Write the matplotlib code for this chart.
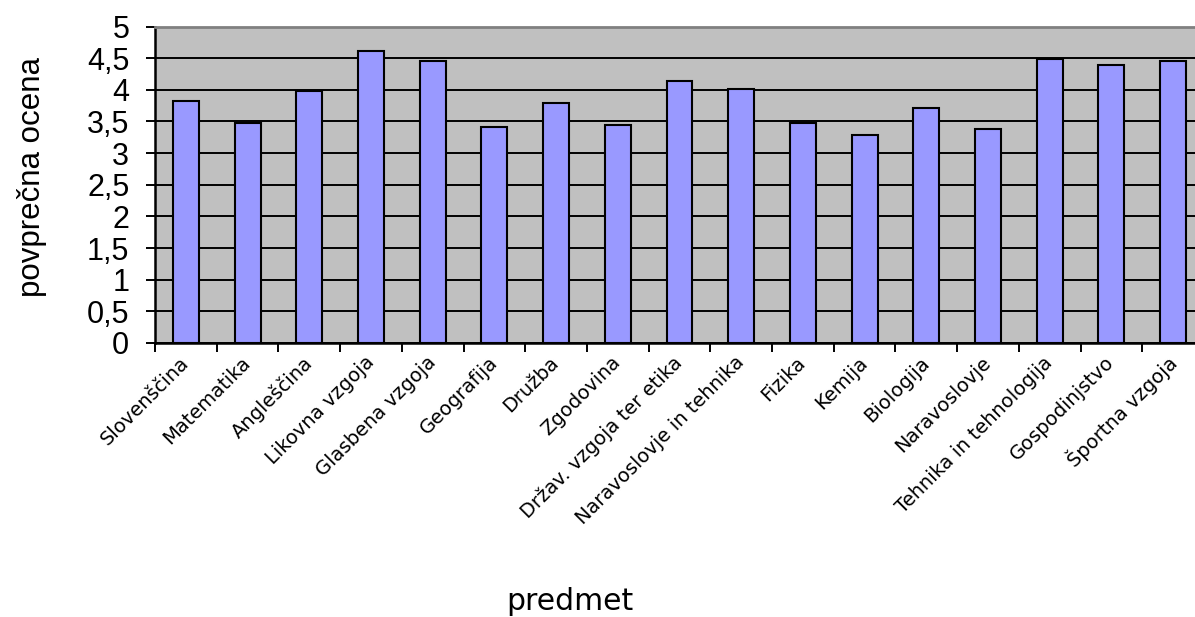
import matplotlib
matplotlib.use("Agg")
import matplotlib.pyplot as plt
from matplotlib.ticker import FixedLocator, FuncFormatter
import numpy as np

categories = ["Slovenščina", "Matematika", "Angleščina", "Likovna vzgoja",
              "Glasbena vzgoja", "Geografija", "Družba", "Zgodovina",
              "Držav. vzgoja ter etika", "Naravoslovje in tehnika", "Fizika",
              "Kemija", "Biologija", "Naravoslovje", "Tehnika in tehnologija",
              "Gospodinjstvo", "Športna vzgoja"]
values = [3.82, 3.47, 3.98, 4.61, 4.46, 3.41, 3.79, 3.44, 4.14, 4.01,
          3.47, 3.28, 3.72, 3.38, 4.48, 4.39, 4.46]
y_ticks = [0, 0.5, 1, 1.5, 2, 2.5, 3, 3.5, 4, 4.5, 5]

W, H = 1195, 617
fig = plt.figure(figsize=(W / 100, H / 100), dpi=100)
left, right, top, bottom = 155, 1204, 26.5, 343
ax = fig.add_axes([left / W, 1 - bottom / H, (right - left) / W, (bottom - top) / H])

x = np.arange(len(categories))
ax.bar(x, values, width=0.42, color="#9999FF", edgecolor="black", linewidth=1.5, zorder=3)

ax.set_facecolor("#C0C0C0")
ax.set_xlim(-0.5, len(categories) - 0.5)
ax.set_ylim(0, 5)

ax.yaxis.set_major_locator(FixedLocator(y_ticks))
ax.yaxis.set_major_formatter(FuncFormatter(lambda v, p: ("%g" % v).replace(".", ",")))
ax.yaxis.grid(True, color="black", linewidth=1.4)
ax.set_axisbelow(True)

ax.tick_params(axis="y", direction="out", length=6.5, width=1.4, pad=12,
               labelsize=22, colors="black")
for lab in ax.get_yticklabels():
    lab.set_fontfamily("Liberation Sans")

ax.set_xticks(x)
ax.set_xticklabels(categories, rotation=45, ha="right", va="center",
                   rotation_mode="anchor", fontsize=14, family="DejaVu Sans")
ax.tick_params(axis="x", which="major", length=0, pad=12)
ax.set_xticks(np.arange(-0.5, len(categories), 1.0), minor=True)
ax.tick_params(axis="x", which="minor", direction="out", length=6.5, width=1.4)

for s in ["left", "bottom"]:
    ax.spines[s].set_color("black")
    ax.spines[s].set_linewidth(1.8)
ax.spines["top"].set_color("#808080")
ax.spines["top"].set_linewidth(2.0)
ax.spines["right"].set_visible(False)

fig.text(32 / W, 1 - 177 / H, "povprečna ocena", rotation=90, ha="center", va="center",
         fontsize=22.5, family="Liberation Sans")
fig.text(570 / W, 1 - 601 / H, "predmet", ha="center", va="center",
         fontsize=21.5, family="DejaVu Sans")

fig.savefig("out.png", dpi=100, facecolor="white")
